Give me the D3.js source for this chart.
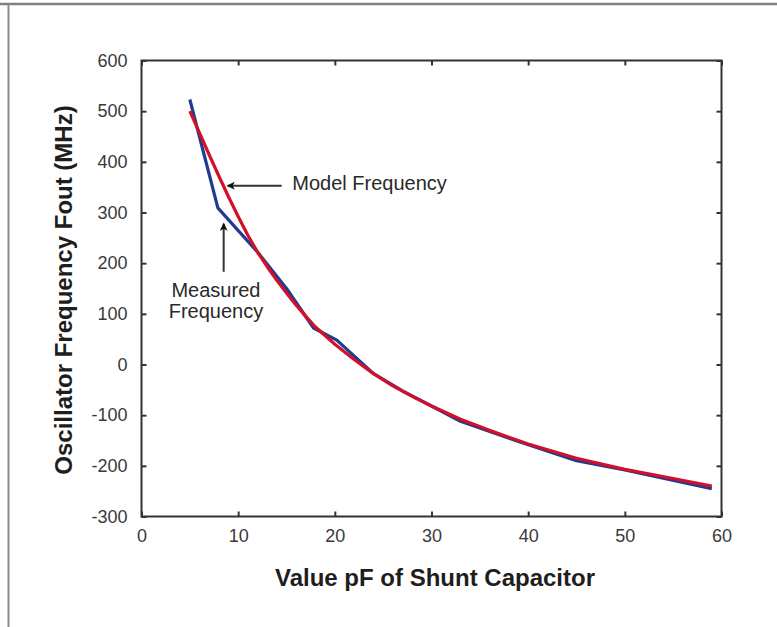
<!DOCTYPE html>
<html>
<head>
<meta charset="utf-8">
<script src="https://cdn.jsdelivr.net/npm/d3@7"></script>
<style>
  body { margin: 0; background: #fff; }
  text { font-family: "Liberation Sans", Arial, Helvetica, sans-serif; }
</style>
</head>
<body>
<div id="chart"></div>
<script>
// measured oscillator frequency (blue)
const measuredC = [5, 7.9, 12, 15, 17.8, 20.2, 24, 27, 33, 39, 45, 50, 59];
const measuredF = [523, 309, 222, 150, 72, 48, -18, -52, -112, -152, -190, -208, -245];

// model frequency (red)
const modelC = [5, 6, 7, 8, 9, 10, 11, 12, 13, 14, 15, 16, 17, 18, 20, 22, 24, 26, 28, 30, 33, 36, 40, 45, 50, 55, 59];
const modelF = [500, 457, 414, 372, 331, 292, 255, 222, 193, 166, 141, 117, 95, 74, 40, 10, -18, -42, -63, -82, -108, -130, -157, -185, -207, -225, -240];

const xTicks = [0, 10, 20, 30, 40, 50, 60];
const yTicks = [600, 500, 400, 300, 200, 100, 0, -100, -200, -300];

const W = 777, H = 627;
const margin = { top: 60.5, right: 55.5, bottom: 110.5, left: 141.5 };
const width = W - margin.left - margin.right;
const height = H - margin.top - margin.bottom;

const svg = d3.select("#chart")
    .append("svg")
    .attr("width", W)
    .attr("height", H);

// frame lines from the original picture
svg.append("line")
    .attr("x1", 0).attr("x2", W).attr("y1", 4).attr("y2", 4)
    .attr("stroke", "#808080").attr("stroke-width", 2.5);
svg.append("line")
    .attr("x1", 8.5).attr("x2", 8.5).attr("y1", 4).attr("y2", H)
    .attr("stroke", "#8c8c8c").attr("stroke-width", 2);

const g = svg.append("g")
    .attr("transform", `translate(${margin.left},${margin.top})`);

const x = d3.scaleLinear().domain([0, 60]).range([0, width]);
const y = d3.scaleLinear().domain([-300, 600]).range([height, 0]);

// plain hyphen for negatives, like the original
const fmt = d => String(d);

// axes: inward ticks on all four sides
function styleAxis(sel) {
    sel.select(".domain").remove();
    sel.selectAll(".tick line").attr("stroke", "#333").attr("stroke-width", 2);
    sel.selectAll(".tick text")
        .attr("fill", "#3a3a3a")
        .style("font-size", "18px");
}

g.append("g")
    .attr("transform", `translate(0,${height})`)
    .call(d3.axisBottom(x).tickValues(xTicks).tickSize(-5).tickPadding(13).tickFormat(fmt))
    .call(styleAxis)
    .selectAll(".tick text").attr("dy", "0.71em");

g.append("g")
    .call(d3.axisTop(x).tickValues(xTicks).tickSize(-5).tickFormat(""))
    .call(styleAxis);

g.append("g")
    .call(d3.axisLeft(y).tickValues(yTicks).tickSize(-5).tickPadding(14).tickFormat(fmt))
    .call(styleAxis);

g.append("g")
    .attr("transform", `translate(${width},0)`)
    .call(d3.axisRight(y).tickValues(yTicks).tickSize(-5).tickFormat(""))
    .call(styleAxis);

// plot frame
g.append("rect")
    .attr("x", 0).attr("y", 0)
    .attr("width", width).attr("height", height)
    .attr("fill", "none")
    .attr("stroke", "#333")
    .attr("stroke-width", 2);

const line = d3.line()
    .x(d => x(d[0]))
    .y(d => y(d[1]));

g.append("path")
    .datum(measuredC.map((c, i) => [c, measuredF[i]]))
    .attr("d", line)
    .attr("fill", "none")
    .attr("stroke", "#1f3a8f")
    .attr("stroke-width", 3.2)
    .attr("stroke-linejoin", "round");

g.append("path")
    .datum(modelC.map((c, i) => [c, modelF[i]]))
    .attr("d", line)
    .attr("fill", "none")
    .attr("stroke", "#d3102a")
    .attr("stroke-width", 3.2)
    .attr("stroke-linejoin", "round");

// annotations
svg.append("defs").append("marker")
    .attr("id", "arrow")
    .attr("viewBox", "0 0 10 10")
    .attr("refX", 9).attr("refY", 5)
    .attr("markerWidth", 9).attr("markerHeight", 8)
    .attr("markerUnits", "userSpaceOnUse")
    .attr("orient", "auto")
    .append("path")
    .attr("d", "M0,0 L10,5 L0,10 L2.5,5 Z")
    .attr("fill", "#111");

// Model Frequency arrow (points left at the red curve)
g.append("line")
    .attr("x1", x(14.5)).attr("x2", x(8.9))
    .attr("y1", y(353)).attr("y2", y(353))
    .attr("stroke", "#333").attr("stroke-width", 2)
    .attr("marker-end", "url(#arrow)");
g.append("text")
    .attr("x", x(15.6))
    .attr("y", y(358))
    .attr("dy", "0.35em")
    .attr("fill", "#2a2a2a")
    .style("font-size", "20px")
    .text("Model Frequency");

// Measured Frequency arrow (points up at the blue curve)
g.append("line")
    .attr("x1", x(8.5)).attr("x2", x(8.5))
    .attr("y1", y(183)).attr("y2", y(278))
    .attr("stroke", "#333").attr("stroke-width", 2)
    .attr("marker-end", "url(#arrow)");
g.append("text")
    .attr("x", x(7.7))
    .attr("y", y(134))
    .attr("text-anchor", "middle")
    .attr("fill", "#2a2a2a")
    .style("font-size", "20px")
    .text("Measured");
g.append("text")
    .attr("x", x(7.7))
    .attr("y", y(92))
    .attr("text-anchor", "middle")
    .attr("fill", "#2a2a2a")
    .style("font-size", "20px")
    .text("Frequency");

// axis titles
svg.append("text")
    .attr("x", 435)
    .attr("y", 586)
    .attr("text-anchor", "middle")
    .attr("fill", "#1e1e1e")
    .style("font-size", "24px")
    .style("font-weight", "bold")
    .text("Value pF of Shunt Capacitor");

svg.append("text")
    .attr("transform", "translate(72,290) rotate(-90)")
    .attr("text-anchor", "middle")
    .attr("fill", "#1e1e1e")
    .style("font-size", "24px")
    .style("font-weight", "bold")
    .text("Oscillator Frequency Fout (MHz)");
</script>
</body>
</html>
